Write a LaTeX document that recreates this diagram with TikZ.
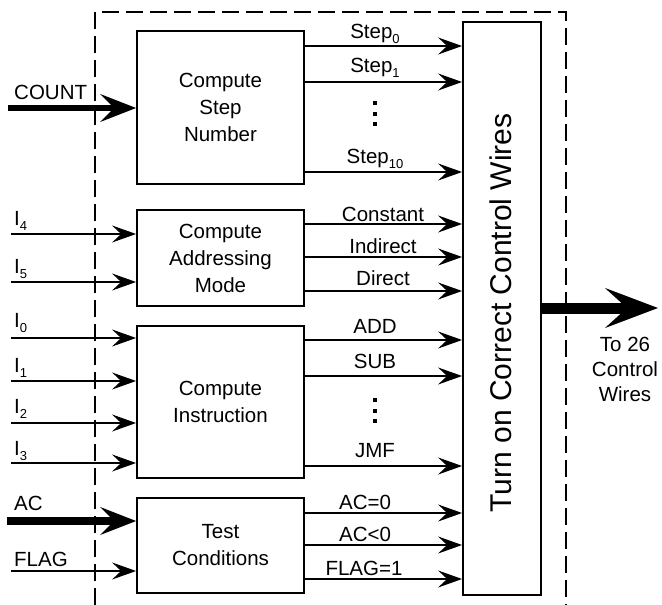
\documentclass[tikz,border=0pt]{standalone}
\usepackage{fontspec}
\setmainfont{Liberation Sans}
\usetikzlibrary{arrows.meta}
\newcommand{\sbs}[1]{\raisebox{-5pt}{\fontsize{13}{13}\selectfont #1}}
\begin{document}
\begin{tikzpicture}[x=1pt,y=-1pt,
  box/.style={draw, line width=1.8pt, align=center, font=\fontsize{20.5}{27}\selectfont, inner sep=0pt},
  wire/.style={line width=1.8pt, -{Stealth[length=24pt,width=17pt,inset=9pt,line width=1.5pt]}},
  busin/.style={line width=6pt, -{Stealth[length=36pt,width=28pt,inset=14pt,line width=2pt]}},
  busout/.style={line width=11pt, -{Stealth[length=53pt,width=40pt,inset=22pt,line width=2.5pt]}},
  lbl/.style={anchor=base, font=\fontsize{20.5}{24}\selectfont, inner sep=0pt},
  inlbl/.style={anchor=base west, font=\fontsize{20.5}{24}\selectfont, inner sep=0pt},
  frame/.style={line width=2pt, dash pattern=on 17pt off 7pt},
  dot/.style={fill=black, minimum size=4pt, inner sep=0pt},
]
\useasboundingbox (0,0) rectangle (662,605);

% dashed frame
\coordinate (f1) at (95,605);
\coordinate (f2) at (95,12);
\coordinate (f3) at (566,12);
\coordinate (f4) at (566,605);
\draw[frame] (f1) -- (f2) -- (f3) -- (f4);

% boxes
\node[box, minimum width=167pt, minimum height=153pt] (step) at (220.5,107.5) {Compute\\Step\\Number};
\node[box, minimum width=167pt, minimum height=96pt] (addr) at (220.5,258) {Compute\\Addressing\\Mode};
\node[box, minimum width=167pt, minimum height=152pt] (instr) at (220.5,402) {Compute\\Instruction};
\node[box, minimum width=167pt, minimum height=95pt] (test) at (220.5,545.5) {Test\\Conditions};
\node[draw, line width=1.8pt, minimum width=78pt, minimum height=573pt, inner sep=0pt] (big) at (502,308.5) {};
\node[rotate=90, font=\fontsize{30}{30}\selectfont, inner sep=0pt] (bigtxt) at (501,313) {Turn on Correct Control Wires};

% y levels of outputs
\coordinate (ys0) at (0,46);
\coordinate (ys1) at (0,82);
\coordinate (ys10) at (0,172);
\coordinate (ycon) at (0,224);
\coordinate (yind) at (0,257);
\coordinate (ydir) at (0,291);
\coordinate (yadd) at (0,340);
\coordinate (ysub) at (0,376);
\coordinate (yjmf) at (0,466);
\coordinate (yac0) at (0,513);
\coordinate (yacl) at (0,545);
\coordinate (yfl1) at (0,579);

\draw[wire] (step.east |- ys0) -- (big.west |- ys0);
\draw[wire] (step.east |- ys1) -- (big.west |- ys1);
\draw[wire] (step.east |- ys10) -- (big.west |- ys10);
\draw[wire] (addr.east |- ycon) -- (big.west |- ycon);
\draw[wire] (addr.east |- yind) -- (big.west |- yind);
\draw[wire] (addr.east |- ydir) -- (big.west |- ydir);
\draw[wire] (instr.east |- yadd) -- (big.west |- yadd);
\draw[wire] (instr.east |- ysub) -- (big.west |- ysub);
\draw[wire] (instr.east |- yjmf) -- (big.west |- yjmf);
\draw[wire] (test.east |- yac0) -- (big.west |- yac0);
\draw[wire] (test.east |- yacl) -- (big.west |- yacl);
\draw[wire] (test.east |- yfl1) -- (big.west |- yfl1);

% output labels
\node[lbl] (ls0) at (375,38) {Step\sbs{0}};
\node[lbl] (ls1) at (375,72) {Step\sbs{1}};
\node[lbl] (ls10) at (375,163) {Step\sbs{10}};
\node[lbl] (lcon) at (383,221) {Constant};
\node[lbl] (lind) at (383,253) {Indirect};
\node[lbl] (ldir) at (383,285) {Direct};
\node[lbl] (ladd) at (375,333) {ADD};
\node[lbl] (lsub) at (375,368) {SUB};
\node[lbl] (ljmf) at (375,457) {JMF};
\node[lbl] (lac0) at (365,509) {AC=0};
\node[lbl] (lacl) at (365,541) {AC<0};
\node[lbl] (lfl1) at (364,575) {FLAG=1};

% vertical dots
\node[dot] (d1) at (375,103) {};
\node[dot] (d2) at (375,114) {};
\node[dot] (d3) at (375,124) {};
\node[dot] (d4) at (375,400) {};
\node[dot] (d5) at (375,410.5) {};
\node[dot] (d6) at (375,421) {};

% inputs
\coordinate (icount) at (8,108);
\coordinate (ii4) at (11,234);
\coordinate (ii5) at (11,282);
\coordinate (ii0) at (11,338);
\coordinate (ii1) at (11,381);
\coordinate (ii2) at (11,423);
\coordinate (ii3) at (11,463);
\coordinate (iac) at (7,521);
\coordinate (iflag) at (11,571);

\draw[busin] (icount) -- (step.west |- icount);
\draw[wire] (ii4) -- (addr.west |- ii4);
\draw[wire] (ii5) -- (addr.west |- ii5);
\draw[wire] (ii0) -- (instr.west |- ii0);
\draw[wire] (ii1) -- (instr.west |- ii1);
\draw[wire] (ii2) -- (instr.west |- ii2);
\draw[wire] (ii3) -- (instr.west |- ii3);
\draw[busin, line width=8pt] (iac) -- (test.west |- iac);
\draw[wire] (iflag) -- (test.west |- iflag);

\node[inlbl] (lcount) at (14,99) {COUNT};
\node[inlbl] (li4) at (14,225) {I\sbs{4}};
\node[inlbl] (li5) at (14,273) {I\sbs{5}};
\node[inlbl] (li0) at (14,327) {I\sbs{0}};
\node[inlbl] (li1) at (14,372) {I\sbs{1}};
\node[inlbl] (li2) at (14,413) {I\sbs{2}};
\node[inlbl] (li3) at (14,455) {I\sbs{3}};
\node[inlbl] (lac) at (14,510) {AC};
\node[inlbl] (lflag) at (14,566) {FLAG};

% output bus
\coordinate (yout) at (0,308);
\coordinate (oend) at (658,308);
\draw[busout] (big.east |- yout) -- (oend);
\node[align=center, font=\fontsize{20.5}{25}\selectfont, inner sep=0pt] (lout) at (625,369) {To 26\\Control\\Wires};
\end{tikzpicture}
\end{document}
